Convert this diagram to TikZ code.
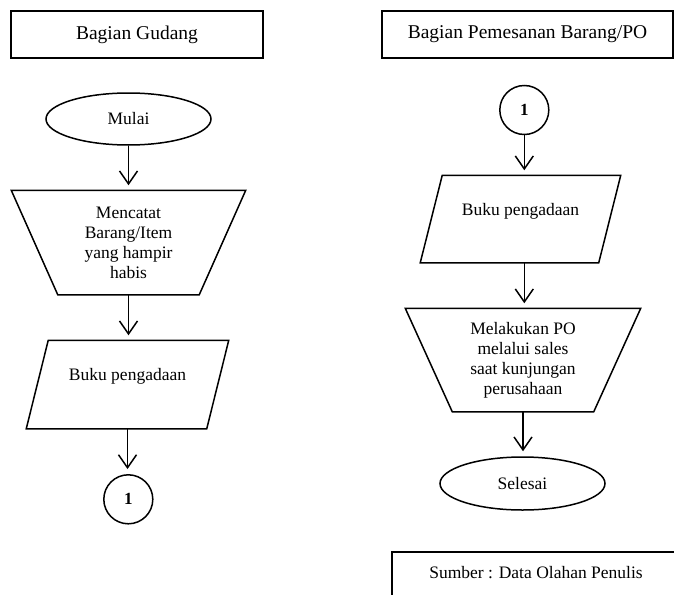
\documentclass[tikz,border=0pt]{standalone}
\usepackage{fontspec}
\setmainfont{Liberation Serif}
\usetikzlibrary{shapes.geometric,arrows.meta}

\tikzset{
  judul/.style={draw, minimum height=47pt, inner sep=0pt, font=\fontsize{19.5}{22}\selectfont},
  terminal/.style={draw, ellipse, minimum width=165pt, minimum height=52pt, inner sep=0pt},
  konektor/.style={draw, circle, minimum size=49pt, inner sep=0pt, font=\fontsize{17}{20}\selectfont\bfseries},
  bidang/.style={inner sep=0pt, align=center},
  panah/.style={-{Straight Barb[length=13pt,width=18pt]}, shorten >=5pt},
}

\begin{document}
\begin{tikzpicture}[x=1pt, y=-1pt, line width=1.5pt, font=\fontsize{17.5}{20}\selectfont]
\useasboundingbox (0,0) rectangle (674,594);

% bagian gudang
\begin{scope}
\node[judul, minimum width=252pt] (gudang) at (137,34.5) {Bagian Gudang};
\node[terminal] (mulai) at (128.5,119) {Mulai};
\node[bidang, minimum width=233pt, minimum height=103pt] (catat) at (128.5,242.5)
     {Mencatat\\Barang/Item\\yang hampir\\habis};
\draw (catat.north west) -- (catat.north east) -- ([xshift=-46.5pt]catat.south east)
      -- ([xshift=46.5pt]catat.south west) -- cycle;
\node[bidang, minimum width=201pt, minimum height=87pt] (buku1) at (127.5,384.5)
     {Buku pengadaan\\ \mbox{}};
\draw ([xshift=22pt]buku1.north west) -- (buku1.north east) -- ([xshift=-22pt]buku1.south east)
      -- (buku1.south west) -- cycle;
\node[konektor] (sambung1) at (128.3,499.3) {1};

\draw[panah] (mulai.south) -- (mulai.south |- catat.north);
\draw[panah] (catat.south) -- (catat.south |- buku1.north);
\draw[panah] (buku1.south) -- (buku1.south |- sambung1.north);
\end{scope}

% bagian pemesanan
\begin{scope}
\node[judul, minimum width=291pt] (pesan) at (527.5,34.5) {Bagian Pemesanan Barang/PO};
\node[konektor] (sambung2) at (524.3,110) {1};
\node[bidang, minimum width=199pt, minimum height=86pt] (buku2) at (520.5,219)
     {Buku pengadaan\\ \mbox{}};
\draw ([xshift=22pt]buku2.north west) -- (buku2.north east) -- ([xshift=-22pt]buku2.south east)
      -- (buku2.south west) -- cycle;
\node[bidang, minimum width=234pt, minimum height=102pt] (po) at (523,360)
     {Melakukan PO\\melalui sales\\saat kunjungan\\perusahaan};
\draw (po.north west) -- (po.north east) -- ([xshift=-47pt]po.south east)
      -- ([xshift=47pt]po.south west) -- cycle;
\node[terminal, minimum height=53pt] (selesai) at (522.5,483.5) {Selesai};

\draw[panah] (sambung2.south) -- (sambung2.south |- buku2.north);
\draw[panah] (buku2.south -| sambung2.south) -- (sambung2.south |- po.north);
\draw[panah] (po.south) -- (po.south |- selesai.north);
\end{scope}

% sumber, terpotong di tepi
\node[draw, minimum width=288pt, minimum height=60pt, inner sep=0pt, align=center] (sumber) at (536,582)
     {Sumber : Data Olahan Penulis\\ \mbox{}};

\end{tikzpicture}
\end{document}
